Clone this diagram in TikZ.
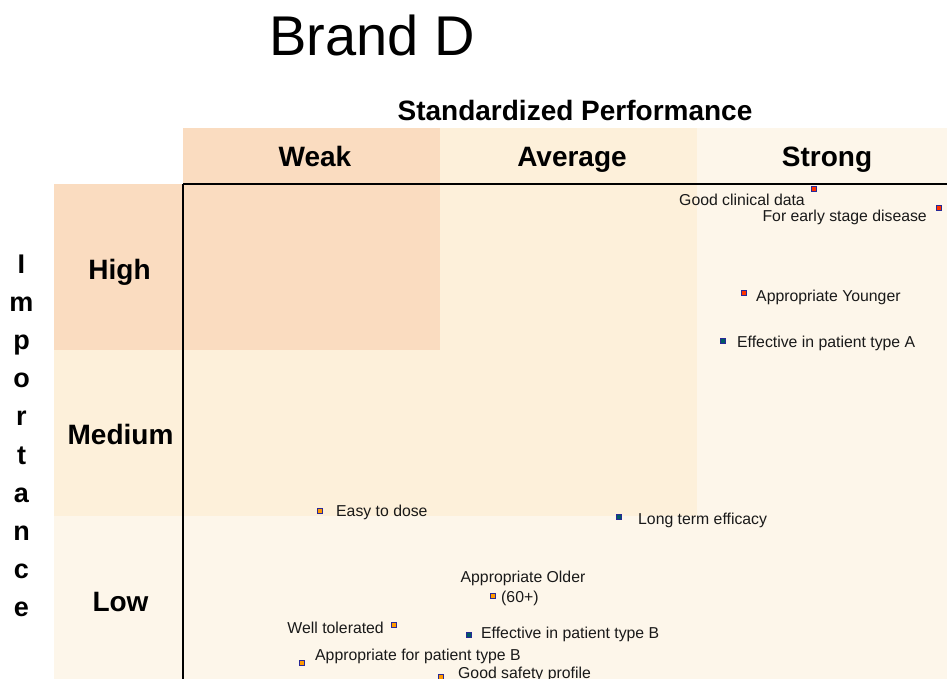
\documentclass[tikz,border=0pt]{standalone}
\usepackage{fontspec}
\setmainfont{Liberation Sans}
\definecolor{cdark}{RGB}{250,220,192}
\definecolor{cmed}{RGB}{253,240,218}
\definecolor{clight}{RGB}{253,246,234}
\definecolor{mkborder}{RGB}{40,40,150}
\definecolor{mkred}{RGB}{255,51,0}
\definecolor{mkorange}{RGB}{255,153,0}
\definecolor{mkteal}{RGB}{0,90,100}
\definecolor{txt}{RGB}{25,25,25}
\tikzset{
  mk/.style={draw=mkborder, line width=0.9pt, minimum size=5.5pt, inner sep=0pt, fill=#1},
  lbl/.style={inner sep=0pt, text=txt, font=\fontsize{15.8}{19}\selectfont},
  hdr/.style={inner sep=0pt, font=\fontsize{28}{32}\selectfont\bfseries},
  impl/.style={inner sep=0pt, font=\fontsize{27}{30}\selectfont\bfseries},
}
\begin{document}
\begin{tikzpicture}[x=1pt,y=-1pt]
\clip (0,0) rectangle (947,679);
\fill[white] (0,0) rectangle (947,679);
% background regions
\fill[clight] (183,128) rectangle (947,679);
\fill[clight] (54,184) rectangle (183,679);
\fill[cmed] (440,128) rectangle (697,184);
\fill[cmed] (183,184) rectangle (697,516);
\fill[cmed] (54,350) rectangle (183,516);
\fill[cdark] (183,128) rectangle (440,184);
\fill[cdark] (183,184) rectangle (440,350);
\fill[cdark] (54,184) rectangle (183,350);
% axes
\coordinate (origin) at (183,184);
\coordinate (xend) at (947,184);
\coordinate (yend) at (183,679);
\draw[line width=1.7pt] (origin) -- (xend);
\draw[line width=1.3pt] (origin) -- (yend);
% titles
\node[inner sep=0pt, anchor=base west, font=\fontsize{56}{60}\selectfont] (title) at (269,56) {Brand D};
\node[hdr, anchor=base] (perf) at (575,121) {Standardized Performance};
\node[hdr, anchor=base] (weak) at (315,167) {Weak};
\node[hdr, anchor=base] (avg) at (572,167) {Average};
\node[hdr, anchor=base] (strong) at (827,167) {Strong};
\node[hdr, anchor=base] (high) at (119.5,279) {High};
\node[hdr, anchor=base] (medium) at (120.5,444) {Medium};
\node[hdr, anchor=base] (low) at (120.5,611) {Low};
% Importance
\foreach \ch [count=\i from 0] in {I,m,p,o,r,t,a,n,c,e} {
  \node[impl, anchor=base] (imp\i) at (21.5,273+38.2*\i) {\ch};
}
% data points
\node[mk=mkred] (p1) at (814,189) {};
\node[lbl, anchor=base east] (l1) at (805,205) {Good clinical data};
\node[mk=mkred] (p2) at (939,208) {};
\node[lbl, anchor=base east] (l2) at (927,222) {For early stage disease};
\node[mk=mkred] (p3) at (744,293) {};
\node[lbl, anchor=base west] (l3) at (756,301) {Appropriate Younger};
\node[mk=mkteal] (p4) at (723,341) {};
\node[lbl, anchor=base west] (l4) at (737,347) {Effective in patient type A};
\node[mk=mkorange] (p5) at (320,511) {};
\node[lbl, anchor=base west] (l5) at (336,516) {Easy to dose};
\node[mk=mkteal] (p6) at (619,517) {};
\node[lbl, anchor=base west] (l6) at (638,524) {Long term efficacy};
\node[mk=mkorange] (p7) at (493,596) {};
\node[lbl, anchor=base] (l7a) at (523,582) {Appropriate Older};
\node[lbl, anchor=base west] (l7b) at (501,602) {(60+)};
\node[mk=mkorange] (p8) at (394,625) {};
\node[lbl, anchor=base east] (l8) at (384,633) {Well tolerated};
\node[mk=mkteal] (p9) at (469,635) {};
\node[lbl, anchor=base west] (l9) at (481,638) {Effective in patient type B};
\node[mk=mkorange] (p10) at (302,663) {};
\node[lbl, anchor=base west] (l10) at (315,660) {Appropriate for patient type B};
\node[mk=mkorange] (p11) at (441,677) {};
\node[lbl, anchor=base west] (l11) at (458,678) {Good safety profile};
\end{tikzpicture}
\end{document}
